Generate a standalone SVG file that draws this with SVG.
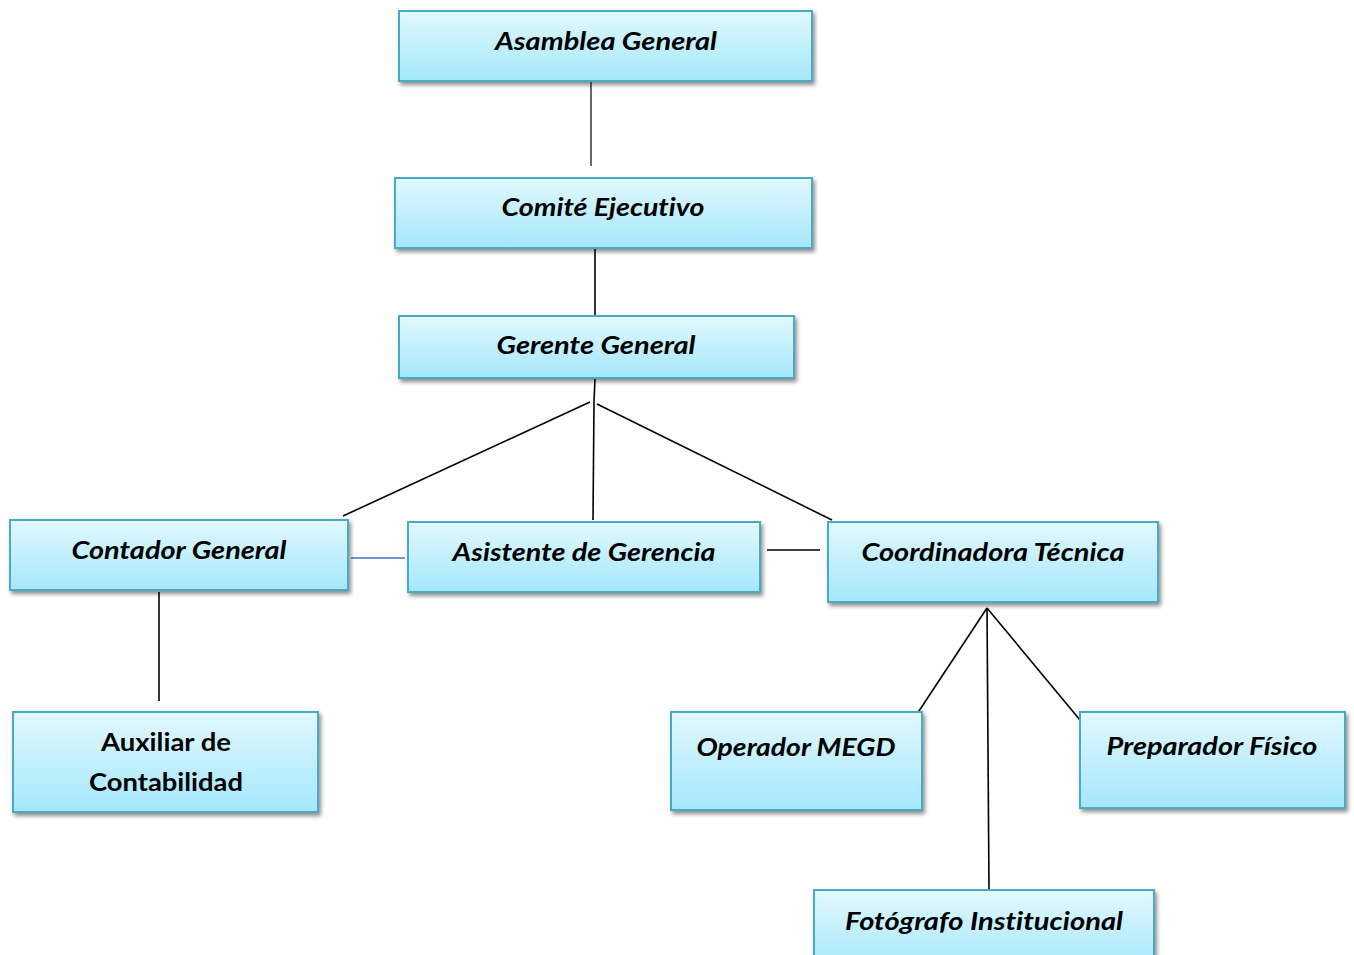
<svg xmlns="http://www.w3.org/2000/svg" width="1354" height="955" viewBox="0 0 1354 955">
<style>
.box{fill:url(#g);stroke:#4aaac6;stroke-width:2;filter:url(#sh)}
.t{font-family:Lato,"Open Sans","Liberation Sans",sans-serif;font-weight:bold;font-style:italic;font-size:25px;fill:#000;text-anchor:middle;font-variant-ligatures:none;font-feature-settings:"liga" 0}
.n{font-style:normal}
.c{stroke:#000;stroke-width:1.6;fill:none}
</style>
<defs>
<linearGradient id="g" x1="0" y1="0" x2="0" y2="1">
<stop offset="0" stop-color="#e2f8fe"/>
<stop offset="1" stop-color="#a4e7fb"/>
</linearGradient>
<filter id="sh" x="-5%" y="-10%" width="115%" height="130%">
<feGaussianBlur in="SourceAlpha" stdDeviation="2"/>
<feOffset dx="2" dy="3" result="o"/>
<feComponentTransfer><feFuncA type="linear" slope="0.45"/></feComponentTransfer>
<feMerge><feMergeNode/><feMergeNode in="SourceGraphic"/></feMerge>
</filter>
</defs>
<rect width="1354" height="955" fill="#fff"/>
<g id="connectors">
<line class="c" x1="591" y1="81" x2="591" y2="166" stroke="#333" style="stroke-width:1.2"/>
<line class="c" x1="595" y1="248" x2="595" y2="320"/>
<line class="c" x1="595" y1="378" x2="594" y2="402"/>
<line class="c" x1="594" y1="402" x2="593" y2="520"/>
<line class="c" x1="590" y1="402" x2="343" y2="516"/>
<line class="c" x1="597" y1="404" x2="832" y2="520"/>
<line x1="351" y1="558" x2="405" y2="558" stroke="#4472c4" stroke-width="1.6"/>
<line class="c" x1="767" y1="550" x2="820" y2="550"/>
<line class="c" x1="159" y1="592" x2="159" y2="701"/>
<line class="c" x1="987" y1="608" x2="917" y2="714"/>
<line class="c" x1="987" y1="608" x2="989" y2="890"/>
<line class="c" x1="987" y1="608" x2="1080" y2="720"/>
</g>
<g id="asamblea"><rect class="box" x="399" y="11" width="413" height="70"/><text class="t" x="606" y="50" textLength="222" lengthAdjust="spacingAndGlyphs">Asamblea General</text></g>
<g id="comite"><rect class="box" x="395" y="178" width="417" height="70"/><text class="t" x="603" y="216" textLength="203" lengthAdjust="spacingAndGlyphs">Comité Ejecutivo</text></g>
<g id="gerente"><rect class="box" x="399" y="316" width="395" height="62"/><text class="t" x="596" y="354" textLength="199" lengthAdjust="spacingAndGlyphs">Gerente General</text></g>
<g id="contador"><rect class="box" x="10" y="520" width="338" height="70"/><text class="t" x="179" y="559" textLength="215" lengthAdjust="spacingAndGlyphs">Contador General</text></g>
<g id="asistente"><rect class="box" x="408" y="522" width="352" height="70"/><text class="t" x="584" y="561" textLength="263" lengthAdjust="spacingAndGlyphs">Asistente de Gerencia</text></g>
<g id="coordinadora"><rect class="box" x="828" y="522" width="330" height="80"/><text class="t" x="993" y="561" textLength="263" lengthAdjust="spacingAndGlyphs">Coordinadora Técnica</text></g>
<g id="auxiliar"><rect class="box" x="13" y="712" width="305" height="100"/><text class="t n" x="166" y="751" textLength="130" lengthAdjust="spacingAndGlyphs">Auxiliar de</text><text class="t n" x="166" y="791" textLength="154" lengthAdjust="spacingAndGlyphs">Contabilidad</text></g>
<g id="operador"><rect class="box" x="671" y="712" width="251" height="98"/><text class="t" x="796" y="756" textLength="199" lengthAdjust="spacingAndGlyphs">Operador MEGD</text></g>
<g id="preparador"><rect class="box" x="1080" y="712" width="265" height="96"/><text class="t" x="1212" y="755" textLength="211" lengthAdjust="spacingAndGlyphs">Preparador Físico</text></g>
<g id="fotografo"><rect class="box" x="814" y="890" width="340" height="80"/><text class="t" x="984" y="930" textLength="278" lengthAdjust="spacingAndGlyphs">Fotógrafo Institucional</text></g>
</svg>
